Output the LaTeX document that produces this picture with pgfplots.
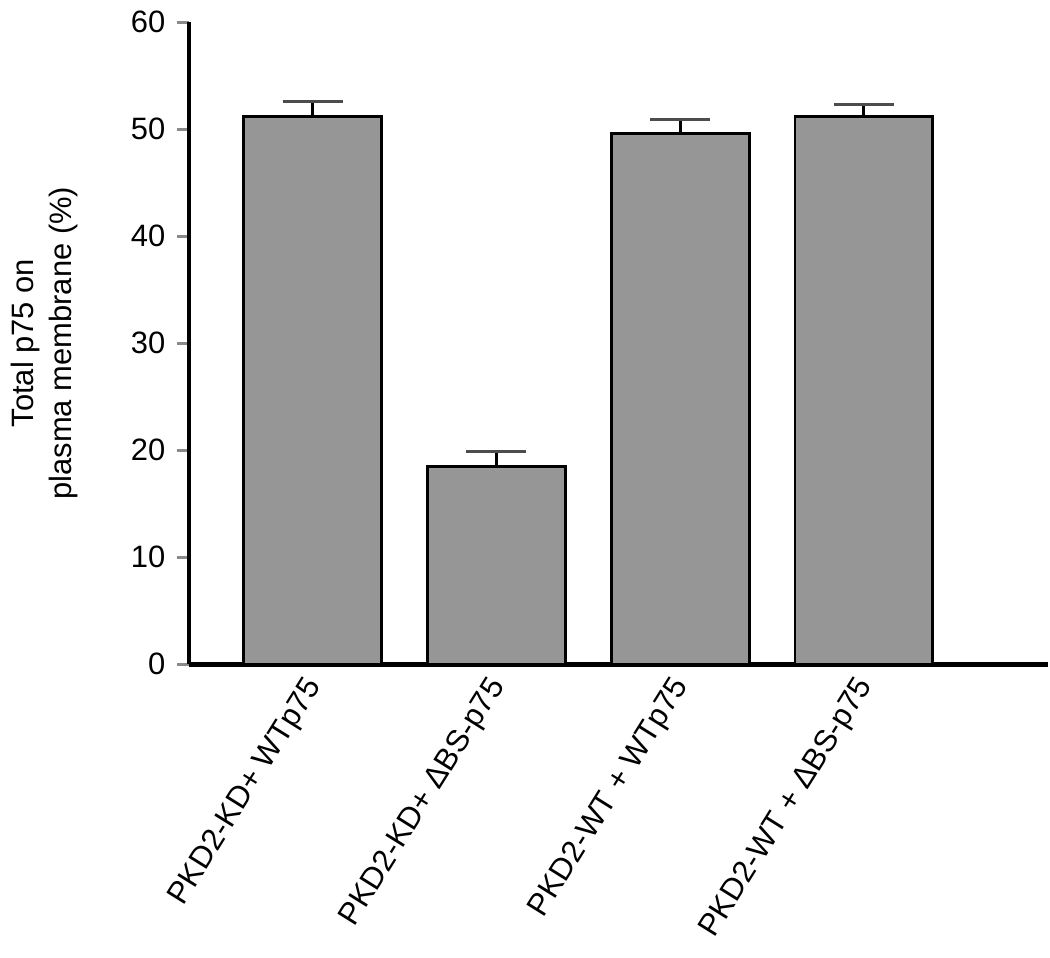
\documentclass[border=0pt]{standalone}
\usepackage{fontspec}
\setmainfont{Liberation Sans}
\usepackage{pgfplots}
\pgfplotsset{compat=1.18}

\definecolor{barfill}{HTML}{969696}
\definecolor{tickgray}{HTML}{8A8A8A}

\begin{document}
\begin{tikzpicture}
\begin{axis}[
  scale only axis,
  width=258.3pt, height=193.2pt,
  xmin=-0.673, xmax=4.0,
  ymin=0, ymax=60,
  axis x line*=bottom, axis y line*=left,
  axis line style={-, line width=1.4pt, black},
  ytick={0,10,...,60},
  tick align=outside,
  major tick length=3.6pt,
  ytick style={draw=tickgray, line width=0.9pt},
  xtick={0,1,2,3},
  xtick style={draw=none},
  xticklabels={PKD2-KD+ WTp75, PKD2-KD+ ΔBS-p75, PKD2-WT + WTp75, PKD2-WT + ΔBS-p75},
  xticklabel style={rotate=58, anchor=east, xshift=2.5pt, yshift=-1.5pt, font=\fontsize{9.3}{11}\selectfont},
  yticklabel style={font=\fontsize{9.3}{11}\selectfont},
  /pgf/number format/assume math mode=true,
  ylabel={Total p75 on\\plasma membrane (\%)},
  ylabel style={align=center, font=\fontsize{9.3}{11.5}\selectfont, yshift=9pt},
  bar width=0.75,
]
\addplot[ybar, fill=barfill, draw=black, line width=0.9pt,
  error bars/.cd, y dir=plus, y explicit,
  error bar style={line width=0.9pt, black},
  error mark options={rotate=90, mark size=9pt, line width=0.9pt, draw=gray!60!black}]
  coordinates {
  (0, 51.2) +- (0, 1.35)
  (1, 18.5) +- (0, 1.4)
  (2, 49.6) +- (0, 1.25)
  (3, 51.2) +- (0, 1.1)
};
\end{axis}
\end{tikzpicture}
\end{document}
